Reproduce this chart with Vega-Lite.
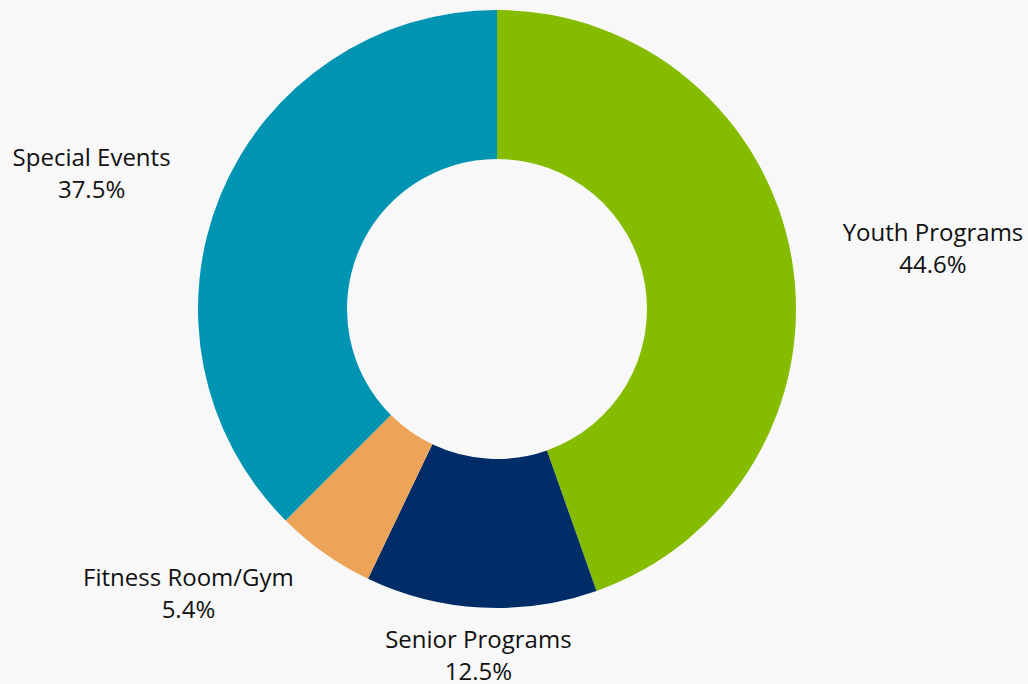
{
  "$schema": "https://vega.github.io/schema/vega-lite/v6.json",
  "width": 994,
  "height": 618,
  "autosize": "none",
  "padding": {"left": 0, "top": 0, "right": 34, "bottom": 66},
  "background": "#f8f8f8",
  "view": {"stroke": null},
  "data": {
    "values": [
      {"category": "Youth Programs", "value": 44.6},
      {"category": "Senior Programs", "value": 12.5},
      {"category": "Fitness Room/Gym", "value": 5.4},
      {"category": "Special Events", "value": 37.5}
    ]
  },
  "transform": [
    {"window": [{"op": "row_number", "as": "seq"}]},
    {"stack": "value", "groupby": [], "sort": [{"field": "seq", "order": "ascending"}], "as": ["v0", "v1"]},
    {"calculate": "(datum.v0 + datum.v1) / 2", "as": "mid"},
    {"calculate": "[datum.category, format(datum.value, '.1f') + '%']", "as": "label"}
  ],
  "layer": [
    {
      "mark": {"type": "arc", "outerRadius": 299, "innerRadius": 150},
      "encoding": {
        "theta": {"field": "v0", "type": "quantitative", "scale": {"domain": [0, 100]}},
        "theta2": {"field": "v1"},
        "color": {
          "field": "category",
          "type": "nominal",
          "scale": {
            "domain": ["Youth Programs", "Senior Programs", "Fitness Room/Gym", "Special Events"],
            "range": ["#86bc00", "#002d67", "#eda458", "#0094b3"]
          },
          "legend": null
        }
      }
    },
    {
      "transform": [{"filter": "datum.category === 'Youth Programs'"}],
      "mark": {"type": "text", "radius": 349, "dx": 92, "dy": -16, "align": "center", "baseline": "middle", "font": "Open Sans", "fontSize": 24, "lineHeight": 32, "color": "#111111"},
      "encoding": {
        "theta": {"field": "mid", "type": "quantitative", "stack": null, "scale": {"domain": [0, 100]}},
        "text": {"field": "label"}
      }
    },
    {
      "transform": [{"filter": "datum.category === 'Special Events'"}],
      "mark": {"type": "text", "radius": 349, "dx": -83, "dy": -16, "align": "center", "baseline": "middle", "font": "Open Sans", "fontSize": 24, "lineHeight": 32, "color": "#111111"},
      "encoding": {
        "theta": {"field": "mid", "type": "quantitative", "stack": null, "scale": {"domain": [0, 100]}},
        "text": {"field": "label"}
      }
    },
    {
      "transform": [{"filter": "datum.category === 'Fitness Room/Gym'"}],
      "mark": {"type": "text", "radius": 349, "dx": -107, "dy": -15, "align": "center", "baseline": "middle", "font": "Open Sans", "fontSize": 24, "lineHeight": 32, "color": "#111111"},
      "encoding": {
        "theta": {"field": "mid", "type": "quantitative", "stack": null, "scale": {"domain": [0, 100]}},
        "text": {"field": "label"}
      }
    },
    {
      "transform": [{"filter": "datum.category === 'Senior Programs'"}],
      "mark": {"type": "text", "radius": 349, "dx": 0, "dy": -17, "align": "center", "baseline": "middle", "font": "Open Sans", "fontSize": 24, "lineHeight": 32, "color": "#111111"},
      "encoding": {
        "theta": {"field": "mid", "type": "quantitative", "stack": null, "scale": {"domain": [0, 100]}},
        "text": {"field": "label"}
      }
    }
  ]
}
